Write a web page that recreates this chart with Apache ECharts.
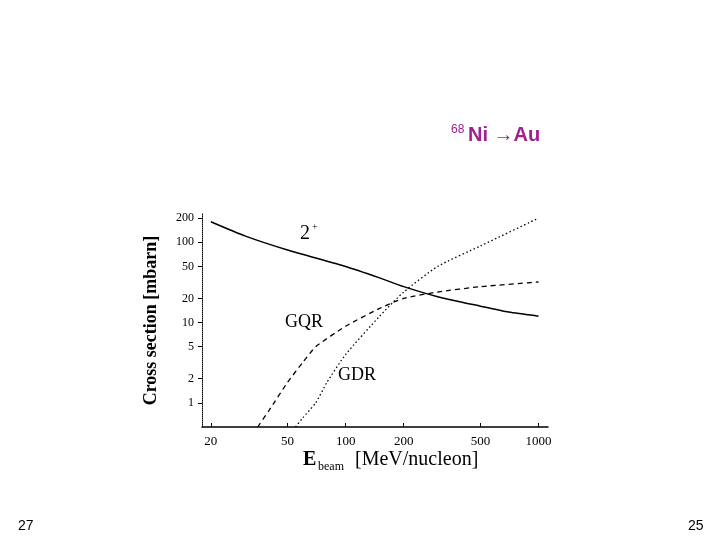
<!DOCTYPE html><html><head><meta charset="utf-8"><script src="https://cdn.jsdelivr.net/npm/echarts@6/dist/echarts.min.js"></script></head><body style="margin:0;background:#fff"><div id="c" style="width:720px;height:540px"></div><script>
const xTicks=[20,50,100,200,500,1000];
const yTicks=[1,2,5,10,20,50,100,200];
const e2x=[20,30,50,100,150,200,300,500,700,1000];
const e2y=[180,120,80,50,36,28,21,16,13.5,12];
const gqrx=[35,40,50,60,70,100,150,200,300,500,1000];
const gqry=[0.5,0.8,1.8,3.2,5,9,15,20,24,28,32];
const gdrx=[55,60,70,80,100,150,200,300,500,1000];
const gdry=[0.5,0.65,1,1.8,4,12,24,50,90,200];
const L=Math.log10;
const pts=(xs,ys)=>xs.map((x,i)=>[L(x),L(ys[i])]);
const serif='Liberation Serif';
const ch=echarts.init(document.getElementById('c'));
ch.setOption({animation:false,
grid:{left:202,right:172,top:214,bottom:113},
xAxis:{type:'value',min:L(18),max:L(1120),splitLine:{show:false},
 axisLine:{onZero:false,lineStyle:{color:'#000',width:1.5}},
 axisTick:{customValues:xTicks.map(L),inside:true,length:4,lineStyle:{color:'#000'}},
 axisLabel:{customValues:xTicks.map(L),formatter:v=>String(Math.round(Math.pow(10,v))),fontFamily:serif,fontSize:13,color:'#000'}},
yAxis:{type:'value',min:L(0.5),max:L(225),splitLine:{show:false},
 name:'Cross section [mbarn]',nameLocation:'middle',nameRotate:90,nameGap:42,
 nameTextStyle:{fontFamily:serif,fontSize:18,fontWeight:'bold',color:'#000'},
 axisLine:{show:true,onZero:false,lineStyle:{color:'#000',type:'dotted'}},
 axisTick:{customValues:yTicks.map(L),length:4,lineStyle:{color:'#000'}},
 axisLabel:{customValues:yTicks.map(L),formatter:v=>String(Math.round(Math.pow(10,v))),fontFamily:serif,fontSize:12,color:'#000'}},
series:[
 {type:'line',data:pts(e2x,e2y),smooth:0.2,symbol:'none',lineStyle:{color:'#000',width:1.5}},
 {type:'line',data:pts(gqrx,gqry),smooth:0.2,symbol:'none',lineStyle:{color:'#000',width:1.3,type:[5,4]}},
 {type:'line',data:pts(gdrx,gdry),smooth:0.2,symbol:'none',lineStyle:{color:'#000',width:1.3,type:[1.5,2.5]}}
],
graphic:[
 {type:'text',left:451,top:124,style:{text:'68',fontSize:12,fontFamily:'Liberation Sans',fill:'#a0208f'}},
 {type:'text',left:468,top:125,style:{text:'Ni →Au',fontSize:20,fontWeight:'bold',fontFamily:'Liberation Sans',fill:'#a0208f'}},
 {type:'text',left:18,top:519,style:{text:'27',fontSize:14,fontFamily:'Liberation Sans',fill:'#000'}},
 {type:'text',left:688,top:519,style:{text:'25',fontSize:14,fontFamily:'Liberation Sans',fill:'#000'}},
 {type:'text',left:300,top:224,style:{text:'2',fontSize:20,fontFamily:serif,fill:'#000'}},
 {type:'text',left:312,top:222,style:{text:'+',fontSize:10,fontFamily:serif,fill:'#000'}},
 {type:'text',left:285,top:313,style:{text:'GQR',fontSize:18,fontFamily:serif,fill:'#000'}},
 {type:'text',left:338,top:366,style:{text:'GDR',fontSize:18,fontFamily:serif,fill:'#000'}},
 {type:'text',left:303,top:450,style:{text:'E',fontSize:20,fontFamily:serif,fontWeight:'bold',fill:'#000'}},
 {type:'text',left:318,top:461,style:{text:'beam',fontSize:12,fontFamily:serif,fill:'#000'}},
 {type:'text',left:355,top:450,style:{text:'[MeV/nucleon]',fontSize:20,fontFamily:serif,fill:'#000'}}
]});
</script></body></html>
